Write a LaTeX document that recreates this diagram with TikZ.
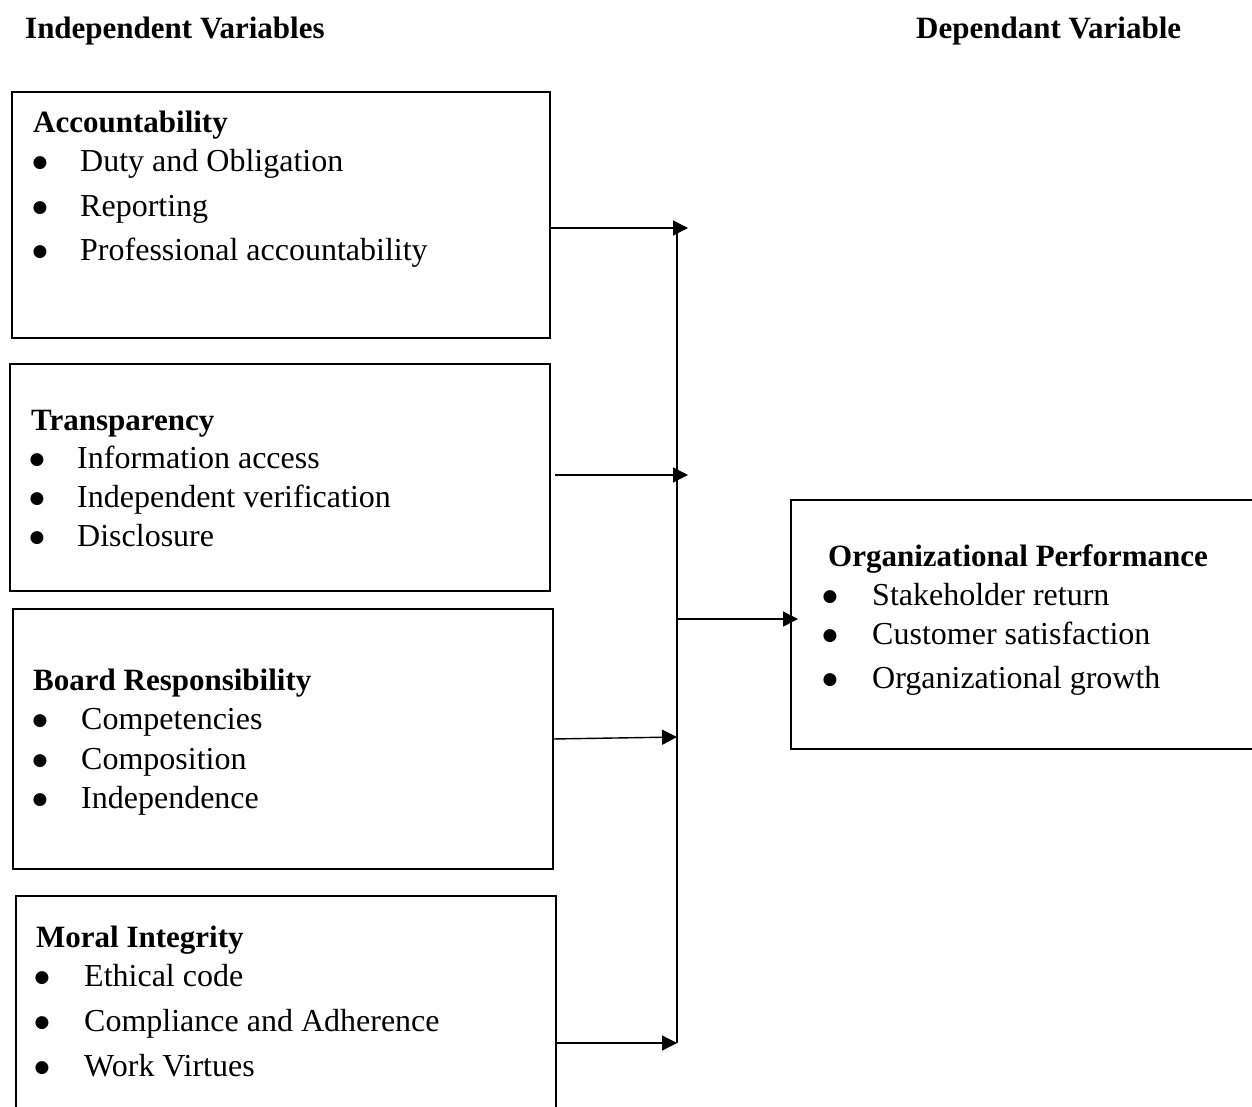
\documentclass[tikz,border=0pt]{standalone}
\usepackage{fontspec}
\setmainfont{Liberation Serif}
\newfontfamily\dotfont{DejaVu Sans}
\usetikzlibrary{arrows.meta}

\tikzset{
  varbox/.style={draw=black, line width=2.2pt, fill=none, inner sep=0pt,
    anchor=north west},
  ttl/.style={anchor=base west, inner sep=0pt, font=\fontsize{31}{36}\selectfont\bfseries},
  head/.style={anchor=base west, inner sep=0pt, font=\fontsize{31}{36}\selectfont\bfseries},
  itm/.style={anchor=base west, inner sep=0pt, font=\fontsize{32}{36}\selectfont},
  bul/.style={anchor=base, inner sep=0pt, yshift=4pt,
    font=\dotfont\fontsize{17}{20}\selectfont},
  link/.style={draw=black, line width=1.4pt},
  arr/.style={link, -{Triangle[length=15pt, width=15pt]}}
}

\begin{document}
\begin{tikzpicture}[x=1pt, y=-1pt]
\useasboundingbox (0,0) rectangle (1252,1106);
\clip (0,0) rectangle (1252,1106);

% column headings
\node[head] (hind) at (25,38) {Independent Variables};
\node[head] (hdep) at (916,38) {Dependant Variable};

% independent variable boxes
\node[varbox, minimum width=538pt, minimum height=246pt] (acc) at (11,91) {};
\node[varbox, minimum width=540pt, minimum height=227pt] (tra) at (9,363) {};
\node[varbox, minimum width=540pt, minimum height=260pt] (brd) at (12,608) {};
\node[varbox, minimum width=540pt, minimum height=300pt] (mor) at (15,895) {};

% dependent variable box
\node[varbox, minimum width=600pt, minimum height=249pt] (org) at (790,499) {};

% Accountability
\node[ttl] (accT) at (33,132) {Accountability};
\node[bul] (accB1) at (40,171) {●};
\node[itm] (accI1) at (80,171) {Duty and Obligation};
\node[bul] (accB2) at (40,216) {●};
\node[itm] (accI2) at (80,216) {Reporting};
\node[bul] (accB3) at (40,260) {●};
\node[itm] (accI3) at (80,260) {Professional accountability};

% Transparency
\node[ttl] (traT) at (31,430) {Transparency};
\node[bul] (traB1) at (37,468) {●};
\node[itm] (traI1) at (77,468) {Information access};
\node[bul] (traB2) at (37,507) {●};
\node[itm] (traI2) at (77,507) {Independent verification};
\node[bul] (traB3) at (37,546) {●};
\node[itm] (traI3) at (77,546) {Disclosure};

% Board Responsibility
\node[ttl] (brdT) at (33,690) {Board Responsibility};
\node[bul] (brdB1) at (40,729) {●};
\node[itm] (brdI1) at (81,729) {Competencies};
\node[bul] (brdB2) at (40,769) {●};
\node[itm] (brdI2) at (81,769) {Composition};
\node[bul] (brdB3) at (40,808) {●};
\node[itm] (brdI3) at (81,808) {Independence};

% Moral Integrity
\node[ttl] (morT) at (36,947) {Moral Integrity};
\node[bul] (morB1) at (42,986) {●};
\node[itm] (morI1) at (84,986) {Ethical code};
\node[bul] (morB2) at (42,1031) {●};
\node[itm] (morI2) at (84,1031) {Compliance and Adherence};
\node[bul] (morB3) at (42,1076) {●};
\node[itm] (morI3) at (84,1076) {Work Virtues};

% Organizational Performance
\node[ttl] (orgT) at (828,566) {Organizational Performance};
\node[bul] (orgB1) at (830,605) {●};
\node[itm] (orgI1) at (872,605) {Stakeholder return};
\node[bul] (orgB2) at (830,644) {●};
\node[itm] (orgI2) at (872,644) {Customer satisfaction};
\node[bul] (orgB3) at (830,688) {●};
\node[itm] (orgI3) at (872,688) {Organizational growth};

% connector end points
\coordinate (busTop) at (677,228);
\coordinate (busBot) at (677,1043);
\coordinate (busMid) at (677,619);
\coordinate (t1) at (688,228);
\coordinate (s2) at (555,475);
\coordinate (t2) at (688,475);
\coordinate (s3) at (552,739);
\coordinate (t3) at (677,737);
\coordinate (s4) at (555,1043);
\coordinate (t4) at (677,1043);
\coordinate (tOrg) at (798,619);

% collecting line and arrows
\draw[link] (busTop) -- (busBot);
\draw[arr] (acc.east |- t1) -- (t1);
\draw[arr] (s2) -- (t2);
\draw[arr] (s3) -- (t3);
\draw[arr] (s4) -- (t4);
\draw[arr] (busMid) -- (tOrg);
\end{tikzpicture}
\end{document}
